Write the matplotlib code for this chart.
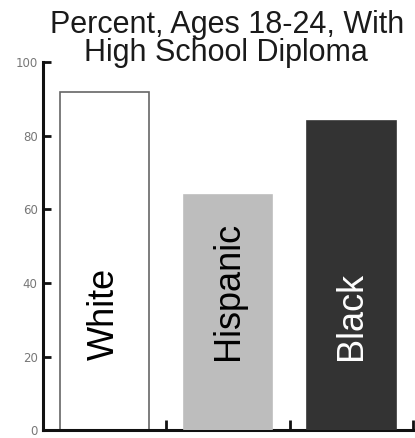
import matplotlib
matplotlib.use('Agg')
import matplotlib.pyplot as plt

# Data
groups = ["White", "Hispanic", "Black"]
percents = [92, 64, 84]
bar_colors = ["#ffffff", "#bdbdbd", "#333333"]
label_colors = ["#000000", "#000000", "#ffffff"]
y_ticks = [0, 20, 40, 60, 80, 100]
title_lines = ["Percent, Ages 18-24, With", "High School Diploma"]

plt.rcParams['font.family'] = ['Liberation Sans', 'DejaVu Sans']

fig = plt.figure(figsize=(4.15, 4.38), dpi=100)
ax = fig.add_axes([0.104, 0.018, 0.891, 0.84])

x = list(range(len(groups)))
bars = ax.bar(x, percents, width=0.72, color=bar_colors,
              edgecolor=bar_colors, linewidth=1.2, zorder=3)
# white bar gets a grey outline and sits under the axis line
bars[0].set_edgecolor('#666666')
bars[0].set_zorder(1)

for xi, name, c in zip(x, groups, label_colors):
    ax.text(xi, 19, name, rotation=90, ha='center', va='bottom',
            fontsize=26, color=c, zorder=4)

ax.set_xlim(-0.5, 2.5)
ax.set_ylim(0, 100)
ax.set_yticks(y_ticks)
ax.set_xticks([0.5, 1.5, 2.5])
ax.set_xticklabels([])

for side in ('top', 'right'):
    ax.spines[side].set_visible(False)
for side in ('left', 'bottom'):
    ax.spines[side].set_linewidth(2.2)
    ax.spines[side].set_color('#111111')

ax.tick_params(axis='y', direction='in', length=6, width=2, color='#111111',
               labelsize=8.5, labelcolor='#777777', pad=4)
for lbl in ax.get_yticklabels():
    lbl.set_family('DejaVu Sans')
ax.tick_params(axis='x', direction='in', length=7, width=2, color='#111111')

# two-line title, baselines placed as in the reference
fig.text(0.548, 0.925, title_lines[0], ha='center', va='baseline',
         fontsize=22, color='#1a1a1a')
fig.text(0.545, 0.861, title_lines[1], ha='center', va='baseline',
         fontsize=22, color='#1a1a1a')

fig.savefig('out.png', dpi=100)
